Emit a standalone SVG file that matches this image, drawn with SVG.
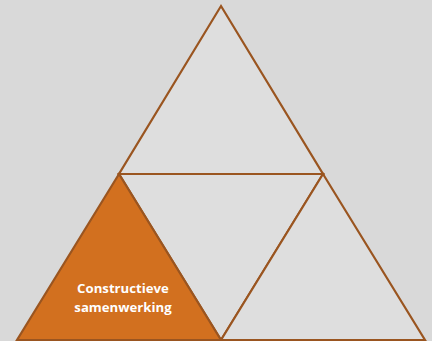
<svg xmlns="http://www.w3.org/2000/svg" width="432" height="341" viewBox="0 0 432 341">
<style>
.tri{fill:#dedede;stroke:#9a5520;stroke-width:2.2;stroke-linejoin:miter}
.act{fill:#d2701f;stroke:#9a5520;stroke-width:2.2}
.lbl{font-family:"Open Sans","Liberation Sans",sans-serif;font-weight:bold;font-size:13.2px;fill:#ffffff;text-anchor:middle}
</style>
<rect width="432" height="341" fill="#d9d9d9"/>
<g id="top"><polygon class="tri" points="221,6 323,174 119,174"/></g>
<g id="middle"><polygon class="tri" points="119,174 323,174 221,340"/></g>
<g id="right"><polygon class="tri" points="323,174 425,340 221,340"/></g>
<g id="left"><polygon class="act" points="119,174 221,340 17,340"/>
<text class="lbl" x="123" y="293">Constructieve</text>
<text class="lbl" x="123" y="312">samenwerking</text></g>
<g id="connectors"></g>
</svg>
